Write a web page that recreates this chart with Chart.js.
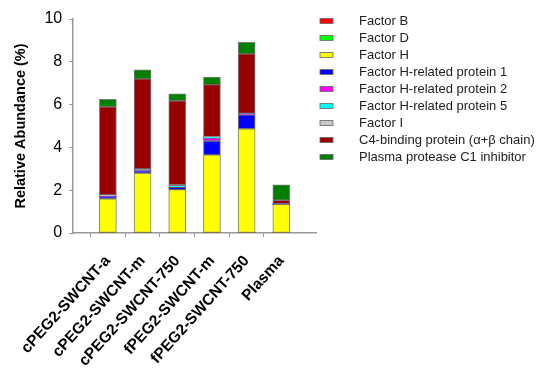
<!DOCTYPE html>
<html>
<head>
<meta charset="utf-8">
<script src="https://cdn.jsdelivr.net/npm/chart.js@4.4.1/dist/chart.umd.min.js"></script>
<style>
  html, body { margin: 0; padding: 0; background: #fff; }
</style>
</head>
<body>
<canvas id="abundanceChart" width="543" height="368"></canvas>
<script>
var categories = ['cPEG2-SWCNT-a', 'cPEG2-SWCNT-m', 'cPEG2-SWCNT-750', 'fPEG2-SWCNT-m', 'fPEG2-SWCNT-750', 'Plasma'];
var factorB = [0, 0, 0, 0, 0, 0];
var factorD = [0, 0, 0, 0, 0, 0];
var factorH = [1.6, 2.8, 2.03, 3.65, 4.87, 1.35];
var fhr1 = [0.1, 0.1, 0.1, 0.65, 0.65, 0];
var fhr2 = [0, 0, 0, 0.13, 0.07, 0];
var fhr5 = [0, 0.06, 0.1, 0.07, 0, 0];
var factorI = [0.08, 0.04, 0.02, 0, 0, 0.02];
var c4bp = [4.12, 4.2, 3.93, 2.43, 2.78, 0.16];
var c1inh = [0.35, 0.43, 0.32, 0.36, 0.54, 0.72];
var yTicks = [0, 2, 4, 6, 8, 10];

var FONT = "'Liberation Sans', Arial, sans-serif";

// empty slot at each end so the bars sit one step in from the axis ends
function pad(arr) { return [null].concat(arr, [null]); }

function series(label, values, color) {
    return {
        label: label,
        data: pad(values),
        backgroundColor: color,
        borderColor: 'rgba(80,80,80,0.75)',
        borderWidth: function (c) { return c.raw > 0 ? 1 : 0; },
        borderSkipped: false,
        barThickness: 17
    };
}

var data = {
    labels: pad(categories).map(function (l) { return l === null ? '' : l; }),
    datasets: [
        series('Factor B', factorB, '#ff0000'),
        series('Factor D', factorD, '#00ff00'),
        series('Factor H', factorH, '#ffff00'),
        series('Factor H-related protein 1', fhr1, '#0000ff'),
        series('Factor H-related protein 2', fhr2, '#ff00ff'),
        series('Factor H-related protein 5', fhr5, '#00ffff'),
        series('Factor I', factorI, '#c8c8c8'),
        series('C4-binding protein (\u03b1+\u03b2 chain)', c4bp, '#990000'),
        series('Plasma protease C1 inhibitor', c1inh, '#007f00')
    ]
};

var sideLegend = {
    id: 'sideLegend',
    afterDraw: function (chart) {
        var ctx = chart.ctx;
        ctx.save();
        ctx.font = '13px ' + FONT;
        ctx.textBaseline = 'middle';
        chart.data.datasets.forEach(function (ds, i) {
            var y = 21 + i * 17;
            ctx.fillStyle = ds.backgroundColor;
            ctx.fillRect(320, y - 2.5, 13, 5);
            ctx.strokeStyle = '#666';
            ctx.lineWidth = 0.8;
            ctx.strokeRect(320, y - 2.5, 13, 5);
            ctx.fillStyle = '#222';
            ctx.fillText(ds.label, 359, y);
        });
        ctx.restore();
    }
};

var myChart = new Chart(document.getElementById('abundanceChart').getContext('2d'), {
    type: 'bar',
    data: data,
    plugins: [sideLegend],
    options: {
        responsive: false,
        animation: false,
        layout: { padding: { top: 19, right: 227, left: 12, bottom: 0 } },
        plugins: {
            legend: { display: false },
            tooltip: { enabled: false }
        },
        scales: {
            x: {
                stacked: true,
                offset: false,
                afterFit: function (scale) { scale.height = 135; },
                border: { color: '#999', width: 1.5 },
                grid: {
                    drawOnChartArea: false,
                    tickLength: 4,
                    tickColor: function (c) {
                        return (c.index === 0 || c.index === categories.length + 1) ? 'rgba(0,0,0,0)' : '#999';
                    }
                },
                ticks: {
                    maxRotation: 48,
                    minRotation: 48,
                    autoSkip: false,
                    color: '#000',
                    padding: 15,
                    font: { family: FONT, size: 15.5, weight: 'bold' }
                }
            },
            y: {
                stacked: true,
                min: 0,
                max: 10,
                afterBuildTicks: function (axis) {
                    axis.ticks = yTicks.map(function (v) { return { value: v }; });
                },
                border: { color: '#999', width: 1.5 },
                grid: { drawOnChartArea: false, tickLength: 4, tickColor: '#999' },
                ticks: {
                    color: '#000',
                    padding: 7,
                    font: { family: FONT, size: 16 }
                },
                title: {
                    display: true,
                    text: 'Relative Abundance (%)',
                    color: '#000',
                    padding: { top: 0, bottom: 8 },
                    font: { family: FONT, size: 14.5, weight: 'bold' }
                }
            }
        }
    }
});
</script>
</body>
</html>
